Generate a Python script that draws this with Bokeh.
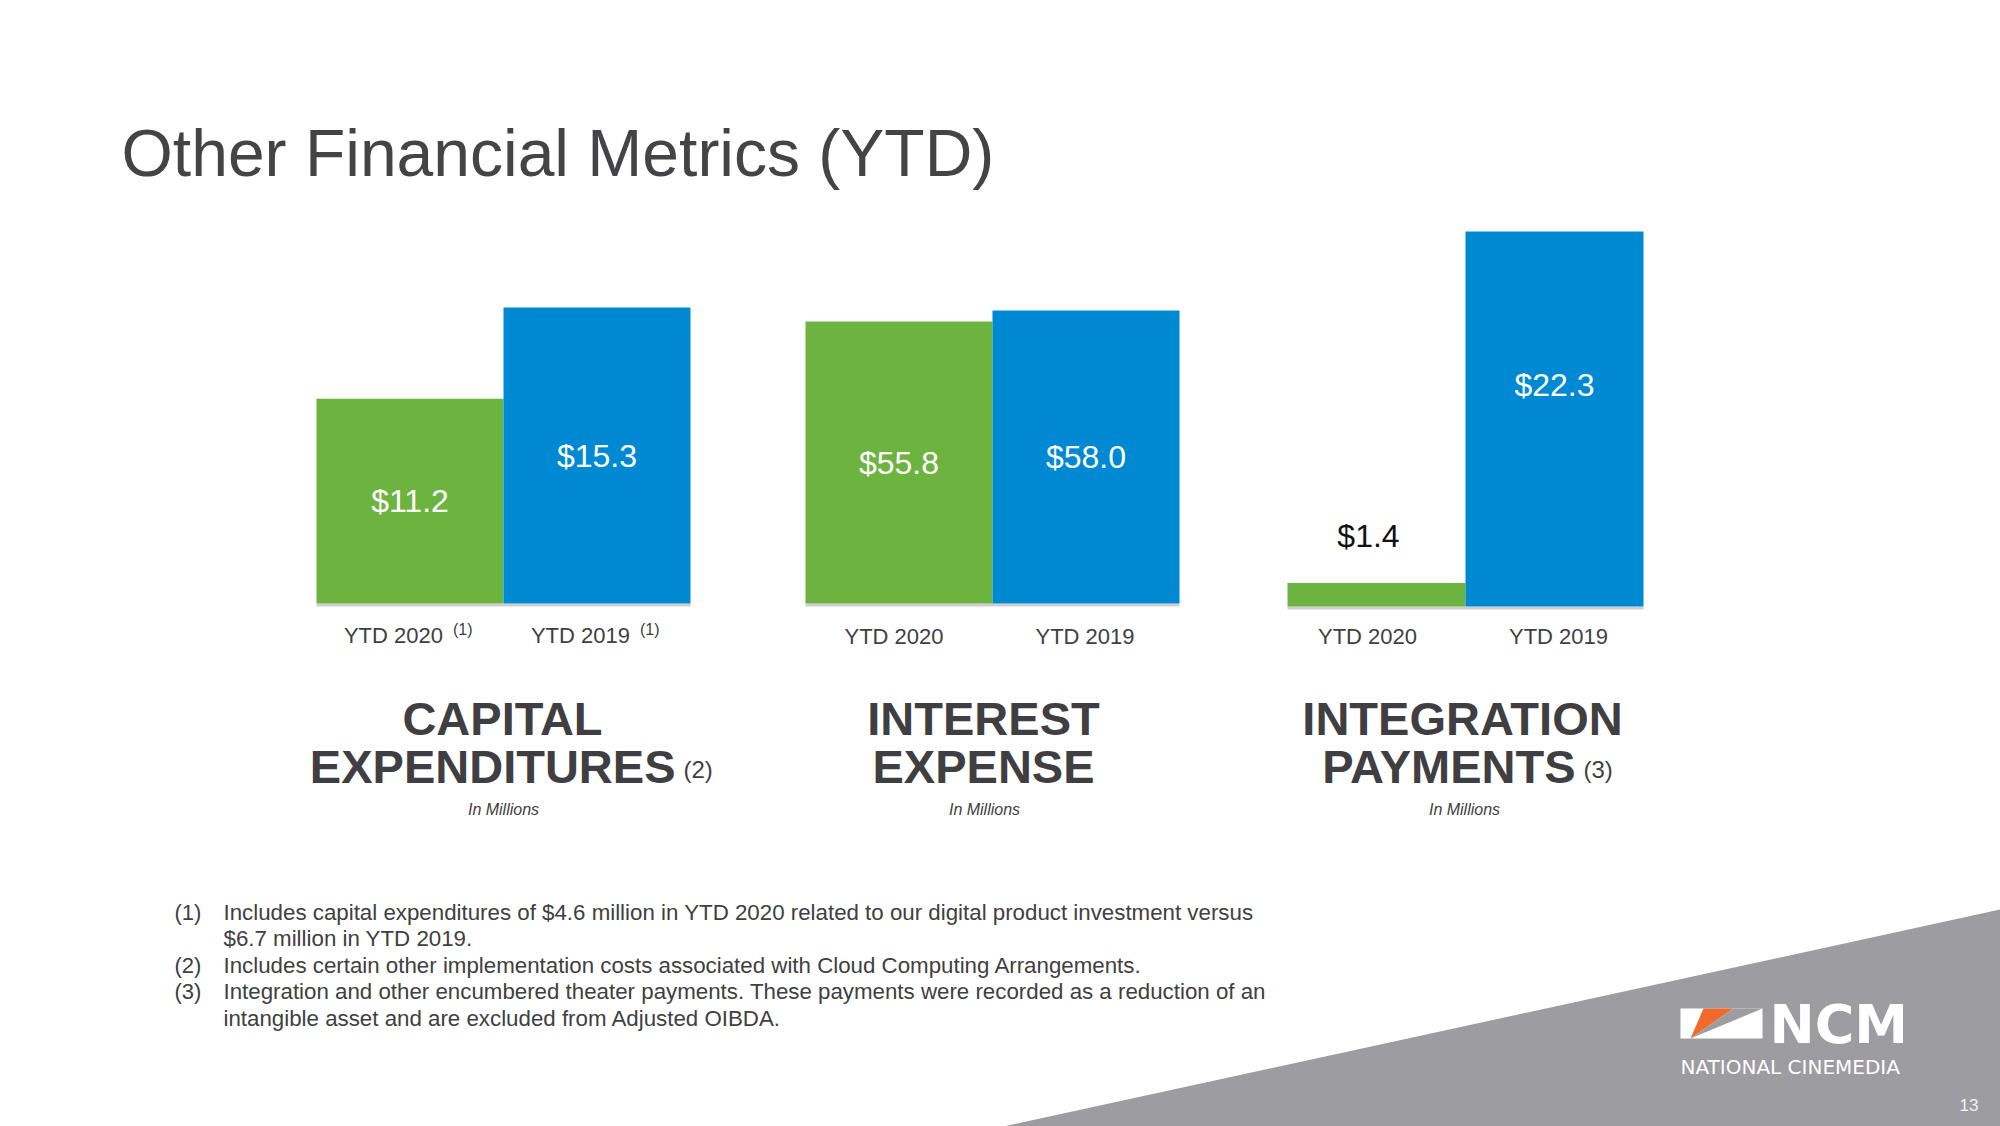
from bokeh.plotting import figure
from bokeh.models import Range1d, ColumnDataSource
from bokeh.core.properties import value
from bokeh.embed import file_html
from bokeh.resources import INLINE

# ---------------- data ----------------
periods = ["YTD 2020", "YTD 2019"]
capex = [11.2, 15.3]
interest = [55.8, 58.0]
integration = [1.4, 22.3]
value_labels_capex = ["$11.2", "$15.3"]
value_labels_interest = ["$55.8", "$58.0"]
value_labels_integration = ["$1.4", "$22.3"]
bar_colors = ["#6DB33F", "#0089D3"]
chart_titles = [("CAPITAL", "EXPENDITURES", "(2)"),
                ("INTEREST", "EXPENSE", ""),
                ("INTEGRATION", "PAYMENTS", "(3)")]
unit_note = "In Millions"
page_title = "Other Financial Metrics (YTD)"
footnote_marks = ["(1)", "", "(2)", "(3)", ""]
footnote_lines = [
    "Includes capital expenditures of $4.6 million in YTD 2020 related to our digital product investment versus",
    "$6.7 million in YTD 2019.",
    "Includes certain other implementation costs associated with Cloud Computing Arrangements.",
    "Integration and other encumbered theater payments.  These payments were recorded as a reduction of an",
    "intangible asset and are excluded from Adjusted OIBDA.",
]

W, H = 2000, 1126
FONT = "Liberation Sans"
DARK = "#404042"

p = figure(width=W, height=H, x_range=Range1d(0, W), y_range=Range1d(H, 0),
           output_backend="svg", toolbar_location=None,
           x_axis_location=None, y_axis_location=None, min_border=0)
p.outline_line_color = None
p.grid.visible = False
p.background_fill_color = "white"
p.border_fill_color = "white"


def txt(x, y, s, size, color=DARK, align="left", style="normal",
        font=FONT, xr="default", yr="default", x_offset=0, y_offset=0):
    p.text(x=[x], y=[y], text=[s],
           text_font=value(font), text_font_size=f"{size}px", text_color=color,
           text_align=align, text_baseline="middle", text_font_style=style,
           x_range_name=xr, y_range_name=yr, x_offset=x_offset, y_offset=y_offset)


# background grey wedge
p.patch(x=[1003, 2000, 2000], y=[1126, 909, 1126], fill_color="#9D9CA0", line_color=None)

# page title
txt(121, 152, page_title, 66, color="#444446")

# ---------------- charts ----------------
charts = [
    dict(vals=capex, labels=value_labels_capex, L=316, w=187, B=603, T=307, v0=2.0,
         fracs=[0.5, 0.5], out_dx=0, sup="(1)", tick_dx=[-14, -14], cx=503,
         t1x=502, t2x=675),
    dict(vals=interest, labels=value_labels_interest, L=805, w=187, B=603, T=310, v0=0.0,
         fracs=[0.5, 0.5], out_dx=0, sup="", tick_dx=[-5, -1], cx=984,
         t1x=983, t2x=None),
    dict(vals=integration, labels=value_labels_integration, L=1287, w=178, B=606, T=231, v0=0.0,
         fracs=[None, 0.59], out_dx=-8, sup="", tick_dx=[-9, 4], cx=1464,
         t1x=1462, t2x=1575),
]

for i, c in enumerate(charts):
    xname, yname = f"x{i}", f"y{i}"
    xs = (-0.5) - c["L"] / c["w"]
    p.extra_x_ranges[xname] = Range1d(xs, xs + W / c["w"])
    vmax = max(c["vals"])
    s = (c["B"] - c["T"]) / (vmax - c["v0"])
    ys = c["v0"] - (H - c["B"]) / s
    p.extra_y_ranges[yname] = Range1d(ys, ys + H / s)

    idx = list(range(len(periods)))
    # soft shadow under the bars
    p.vbar(x=[0.5], top=[c["v0"]], bottom=[c["v0"] - 3 / s], width=2.0,
           fill_color="#CFCFD2", line_color=None, x_range_name=xname, y_range_name=yname)
    src = ColumnDataSource(dict(x=idx, top=c["vals"], color=bar_colors))
    p.vbar(x="x", top="top", bottom=c["v0"], width=1.0, fill_color="color", line_color=None,
           source=src, x_range_name=xname, y_range_name=yname)

    # value labels
    for j, (v, lab) in enumerate(zip(c["vals"], c["labels"])):
        fr = c["fracs"][j]
        if fr is None:
            txt(j, v, lab, 32, color="#111111", align="center",
                xr=xname, yr=yname, x_offset=c["out_dx"], y_offset=-47)
        else:
            txt(j, c["v0"] + (v - c["v0"]) * fr, lab, 32, color="white", align="center",
                xr=xname, yr=yname)

    # category labels
    for j, per in enumerate(periods):
        if c["sup"]:
            txt(j, 635, per, 22, align="right", xr=xname, x_offset=33)
            txt(j, 629, c["sup"], 16, align="left", xr=xname, x_offset=43)
        else:
            txt(j, 636, per, 22, align="center", xr=xname, x_offset=c["tick_dx"][j])

    # chart titles
    l1, l2, note = chart_titles[i]
    txt(c["t1x"], 718, l1, 47, color="#3F3F42", align="center", style="bold")
    if note:
        txt(c["t2x"], 766, l2, 47, color="#3F3F42", align="right", style="bold")
        txt(c["t2x"] + 8, 769, note, 24, color="#3F3F42", align="left")
    else:
        txt(c["t1x"], 766, l2, 47, color="#3F3F42", align="center", style="bold")
    txt(c["cx"], 809, unit_note, 16, color="#404040", align="center", style="italic")

# ---------------- footnotes ----------------
foot_mid = [912, 938, 965, 991, 1018]
for m, line, ym in zip(footnote_marks, footnote_lines, foot_mid):
    if m:
        txt(174, ym, m, 22, color="#404040")
    txt(223, ym, line, 22.3, color="#404040")

# ---------------- logo ----------------
p.patch(x=[1680, 1762, 1762, 1680], y=[1008, 1008, 1038, 1038], fill_color="white", line_color=None)
p.patch(x=[1703, 1733, 1690], y=[1008, 1008, 1038], fill_color="#F26A2B", line_color=None)
p.patch(x=[1733, 1762, 1690], y=[1008, 1008, 1038], fill_color="#9D9CA0", line_color=None)
txt(1769, 1024, "NCM", 54, color="white", style="bold", font="DejaVu Sans")
txt(1680, 1066, "NATIONAL CINEMEDIA", 20, color="white", font="DejaVu Sans")
txt(1978, 1104, "13", 17, color="#F2F2F2", align="right")

open("out.html", "w").write(file_html(p, INLINE))
